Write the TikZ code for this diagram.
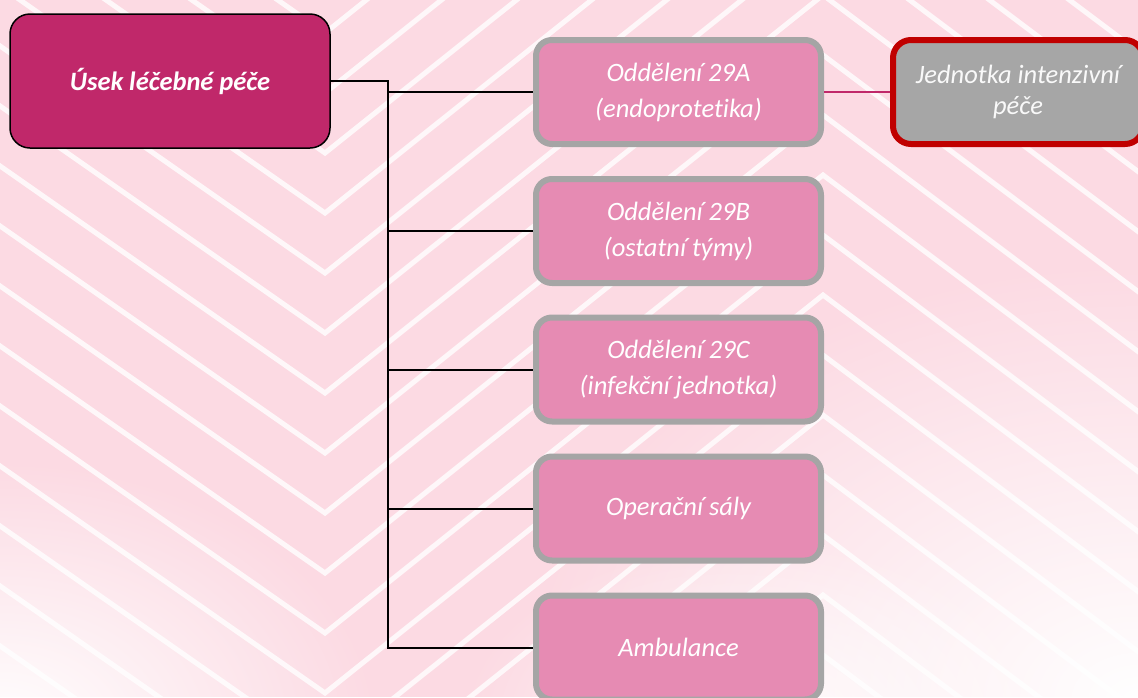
\documentclass[tikz,border=0pt]{standalone}
\usepackage{fontspec}
\setmainfont{Carlito}[Ligatures=NoCommon]
\usetikzlibrary{fadings}
\definecolor{mag}{HTML}{C0286A}
\definecolor{pinkbox}{HTML}{E68BB3}
\definecolor{graybd}{HTML}{A5A5A5}
\definecolor{jipfill}{HTML}{A6A6A6}
\definecolor{jipred}{HTML}{C00000}
\definecolor{bgpink}{HTML}{FCDAE3}
\tikzfading[name=fadeout, inner color=transparent!0, outer color=transparent!100]
\begin{document}
\begin{tikzpicture}[x=1pt,y=-1pt,
  mainbox/.style={rounded corners=20pt, fill=mag, draw=black, line width=1.5pt,
    minimum width=320pt, minimum height=134pt, inner sep=0pt, text=white,
    font=\fontsize{26.5}{30}\selectfont\bfseries\itshape},
  unitbox/.style={rounded corners=16pt, fill=pinkbox, draw=graybd, line width=6pt,
    minimum width=285pt, minimum height=104pt, inner sep=0pt, text=white, align=center,
    font=\fontsize{26.5}{36}\selectfont\itshape},
  jipbox/.style={rounded corners=18pt, fill=jipfill, draw=jipred, line width=6pt,
    minimum width=250pt, minimum height=104pt, inner sep=0pt, text=white!95!gray, align=center,
    font=\fontsize{26.5}{31}\selectfont\itshape},
  conn/.style={draw=black, line width=2pt},
  link/.style={draw=mag, line width=2pt},
  stripe/.style={white, line width=5pt, opacity=0.8}]
\useasboundingbox (0,0) rectangle (1138,697);
% background chevrons
\fill[bgpink] (0,0) rectangle (1138,697);
\foreach \j in {-10,...,14}{
  \pgfmathsetmacro\a{213+60*\j}
  \draw[stripe] (-50,\a-262) -- (325,\a) -- (823,\a-398) -- (1200,\a-115);
}
\fill[white, path fading=fadeout] (1138,700) ellipse [x radius=620, y radius=440];
\fill[white, path fading=fadeout] (0,730) ellipse [x radius=380, y radius=270];
\fill[white, opacity=0.8, path fading=fadeout] (760,720) ellipse [x radius=300, y radius=180];
% nodes
\node[mainbox] (main) at (170,81) {Úsek léčebné péče};
\node[unitbox] (u1) at (678.5,92) {Oddělení 29A\\(endoprotetika)};
\node[unitbox] (u2) at (678.5,231) {Oddělení 29B\\(ostatní týmy)};
\node[unitbox] (u3) at (678.5,369.5) {Oddělení 29C\\(infekční jednotka)};
\node[unitbox] (u4) at (678.5,508.5) {Operační sály};
\node[unitbox] (u5) at (678.5,647.5) {Ambulance};
\node[jipbox] (jip) at (1018,92) {Jednotka intenzivní\\péče};
% connectors
\draw[conn] (main.east) -- ++(57,0) coordinate (bt) |- (u5.west);
\foreach \u in {u1,u2,u3,u4}{
  \draw[conn] (bt |- \u.west) -- (\u.west);
}
\draw[link] (u1.east) -- (jip.west);
\end{tikzpicture}
\end{document}
